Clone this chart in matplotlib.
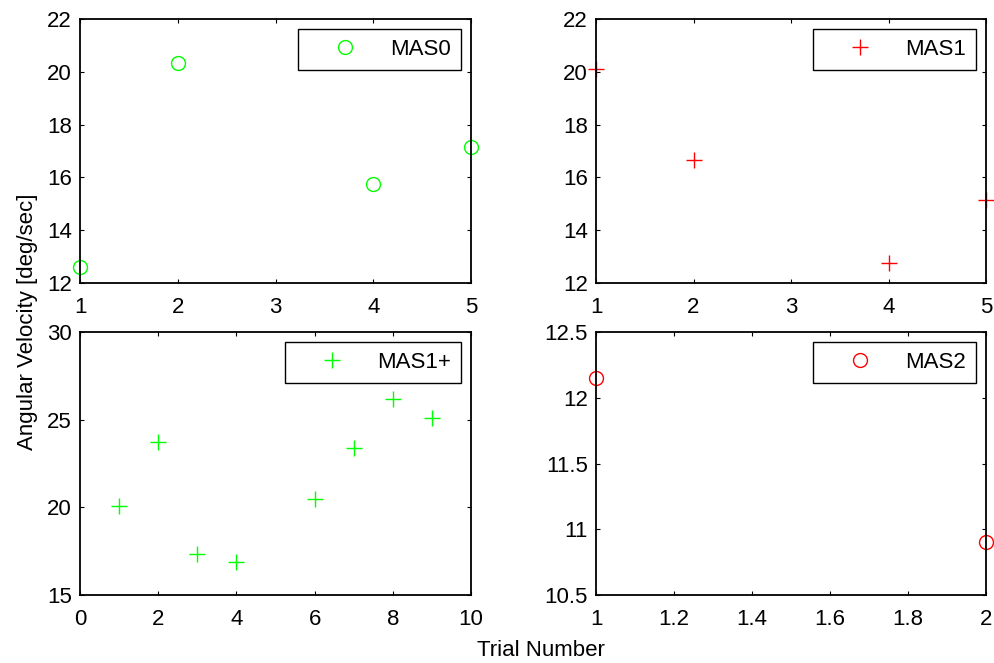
import matplotlib
matplotlib.use("Agg")
import matplotlib.pyplot as plt

plt.rcParams['font.family'] = ['Liberation Sans', 'DejaVu Sans']
FS = 16
plt.rcParams['font.size'] = FS

mas0_x = [1, 2, 4, 5]
mas0_y = [12.6, 20.35, 15.75, 17.15]
mas1_x = [1, 2, 4, 5]
mas1_y = [20.1, 16.65, 12.75, 15.15]
mas1p_x = [1, 2, 3, 4, 6, 7, 8, 9]
mas1p_y = [20.1, 23.7, 17.35, 16.9, 20.5, 23.4, 26.2, 25.1]
mas2_x = [1, 2]
mas2_y = [12.15, 10.9]

green = (0, 1, 0)
red = (1, 0, 0)

fig = plt.figure(figsize=(9.94, 6.63), dpi=100)
W, H = 994, 663

def mkax(l, r, t, b):
    return fig.add_axes([l / W, 1 - b / H, (r - l) / W, (b - t) / H])

ax1 = mkax(80, 471, 19, 283)
ax2 = mkax(596, 986, 19, 283)
ax3 = mkax(80, 471, 332, 595)
ax4 = mkax(596, 986, 332, 595)

ax1.plot(mas0_x, mas0_y, 'o', color=green, mfc='none', ms=10, mew=1, label='MAS0', clip_on=False)
ax2.plot(mas1_x, mas1_y, '+', color=red, ms=11, mew=1, label='MAS1', clip_on=False)
ax3.plot(mas1p_x, mas1p_y, '+', color=green, ms=11, mew=1, label='MAS1+', clip_on=False)
ax4.plot(mas2_x, mas2_y, 'o', color=red, mfc='none', ms=10, mew=1, label='MAS2', clip_on=False)

ax1.set_xlim(1, 5); ax1.set_ylim(12, 22)
ax1.set_xticks([1, 2, 3, 4, 5]); ax1.set_yticks([12, 14, 16, 18, 20, 22])
ax2.set_xlim(1, 5); ax2.set_ylim(12, 22)
ax2.set_xticks([1, 2, 3, 4, 5]); ax2.set_yticks([12, 14, 16, 18, 20, 22])
ax3.set_xlim(0, 10); ax3.set_ylim(15, 30)
ax3.set_xticks([0, 2, 4, 6, 8, 10]); ax3.set_yticks([15, 20, 25, 30])
ax4.set_xlim(1, 2); ax4.set_ylim(10.5, 12.5)
ax4.set_xticks([1, 1.2, 1.4, 1.6, 1.8, 2]); ax4.set_xticklabels(['1', '1.2', '1.4', '1.6', '1.8', '2'])
ax4.set_yticks([10.5, 11, 11.5, 12, 12.5]); ax4.set_yticklabels(['10.5', '11', '11.5', '12', '12.5'])

for ax in (ax1, ax2, ax3, ax4):
    ax.tick_params(direction='in', length=3, width=0.8, top=True, right=True, labelsize=FS)
    ax.tick_params(axis='x', pad=10)
    ax.tick_params(axis='y', pad=6)
    for s in ax.spines.values():
        s.set_linewidth(1.3)
    leg = ax.legend(loc='upper right', frameon=True, fancybox=False, edgecolor='black',
                    borderpad=0.45, handlelength=3.3, handletextpad=0.4, borderaxespad=0.45,
                    fontsize=FS)
    leg.get_frame().set_linewidth(1.0)
    leg.get_frame().set_facecolor('white')
    leg.get_frame().set_alpha(1)

fig.text(28 / W, 1 - 322 / H, 'Angular Velocity [deg/sec]', rotation=90, ha='center', va='center', fontsize=FS)
fig.text(541 / W, 1 - 650 / H, 'Trial Number', ha='center', va='center', fontsize=FS)

fig.savefig('out.png', dpi=100)
